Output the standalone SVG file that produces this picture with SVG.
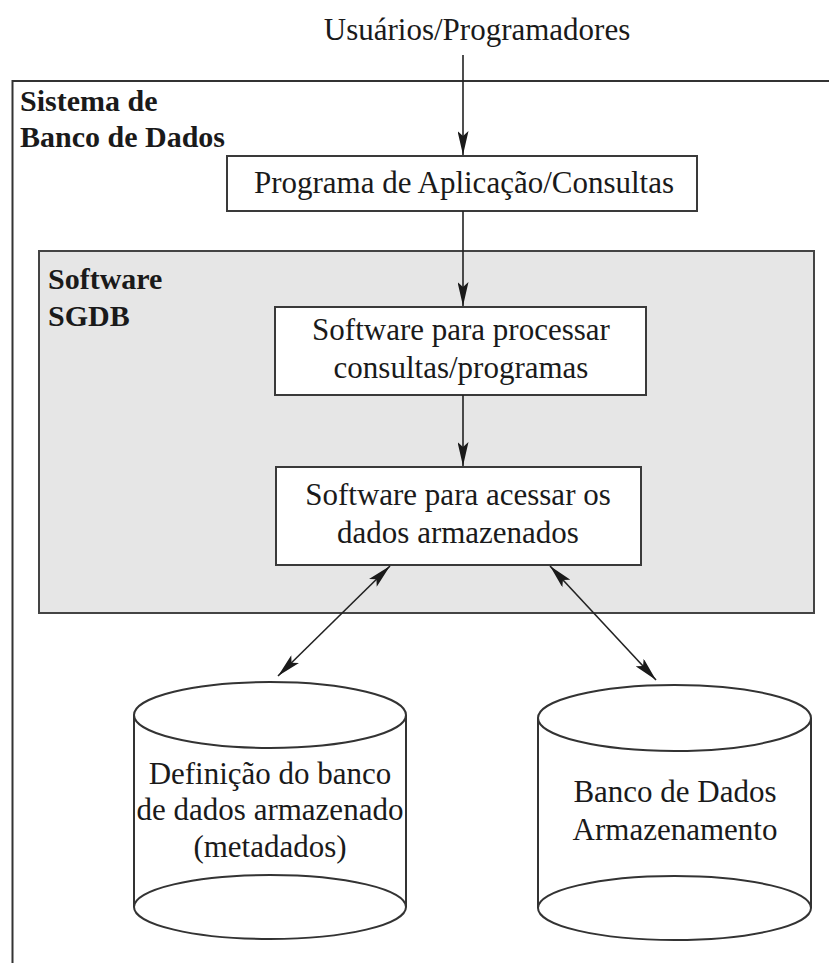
<svg xmlns="http://www.w3.org/2000/svg" width="829" height="963" viewBox="0 0 829 963">
<defs>
<style>
.t{font-family:"Liberation Serif","Times New Roman",serif;font-size:31px;fill:#1a1a1a;}
.c{text-anchor:middle;}
.b{font-weight:bold;font-size:30px;}
.box{fill:#fff;stroke:#3a3a3a;stroke-width:2;}
.ln{stroke:#222;stroke-width:1.6;fill:none;}
.cyl{fill:#fff;stroke:#333;stroke-width:2;}
</style>
<marker id="ah" viewBox="0 0 24 11" refX="24" refY="5.5" markerWidth="24" markerHeight="11" markerUnits="userSpaceOnUse" orient="auto-start-reverse">
<path d="M0,0 L24,5.5 L0,11 L5,5.5 Z" fill="#1a1a1a"/>
</marker>
</defs>
<rect width="829" height="963" fill="#fff"/>
<g id="frame">
<rect x="12.5" y="81" width="830" height="900" fill="none" stroke="#333" stroke-width="2"/>
<text class="t b" x="20" y="111">Sistema de</text>
<text class="t b" x="20" y="147">Banco de Dados</text>
</g>
<g id="users">
<text class="t c" x="477" y="40">Usuários/Programadores</text>
</g>
<g id="app">
<rect class="box" x="227" y="156" width="470" height="55"/>
<text class="t c" x="464" y="193">Programa de Aplicação/Consultas</text>
</g>
<g id="sgdb">
<rect x="39" y="251" width="775" height="362" fill="#e6e6e6" stroke="#444" stroke-width="2"/>
<text class="t b" x="48" y="289">Software</text>
<text class="t b" x="48" y="326">SGDB</text>
</g>
<g id="proc">
<rect class="box" x="275" y="307" width="371" height="88"/>
<text class="t c" x="461" y="340">Software para processar</text>
<text class="t c" x="461" y="378">consultas/programas</text>
</g>
<g id="access">
<rect class="box" x="276" y="467" width="365" height="98"/>
<text class="t c" x="458" y="505">Software para acessar os</text>
<text class="t c" x="458" y="543">dados armazenados</text>
</g>
<g id="meta">
<path class="cyl" d="M134,715 L134,907 A136,32 0 0 0 406,907 L406,715"/>
<path class="cyl" d="M134,907 A136,32 0 0 1 406,907"/>
<ellipse class="cyl" cx="270" cy="715" rx="136" ry="33"/>
<text class="t c" x="270" y="784">Definição do banco</text>
<text class="t c" x="270" y="820">de dados armazenado</text>
<text class="t c" x="270" y="857">(metadados)</text>
</g>
<g id="db">
<path class="cyl" d="M538,718 L538,908 A136.5,32 0 0 0 811,908 L811,718"/>
<path class="cyl" d="M538,908 A136.5,32 0 0 1 811,908"/>
<ellipse class="cyl" cx="674.5" cy="718" rx="136.5" ry="33"/>
<text class="t c" x="675" y="802">Banco de Dados</text>
<text class="t c" x="675" y="840">Armazenamento</text>
</g>
<g id="connectors">
<line class="ln" x1="463" y1="55" x2="463" y2="155" marker-end="url(#ah)"/>
<line class="ln" x1="463" y1="211" x2="463" y2="306" marker-end="url(#ah)"/>
<line class="ln" x1="463" y1="395" x2="463" y2="466" marker-end="url(#ah)"/>
<line class="ln" x1="278" y1="676" x2="390" y2="566" marker-start="url(#ah)" marker-end="url(#ah)"/>
<line class="ln" x1="656" y1="680" x2="550" y2="566" marker-start="url(#ah)" marker-end="url(#ah)"/>
</g>
</svg>
